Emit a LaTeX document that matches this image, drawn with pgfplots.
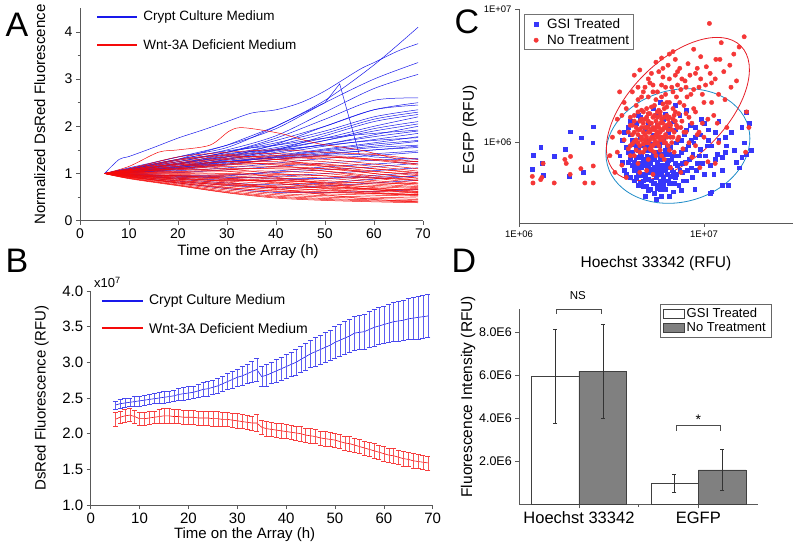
\documentclass[border=0pt]{standalone}
\usepackage{fontspec}
\setmainfont{Liberation Sans}
\usepackage{pgfplots}
\usepackage{pgfplotstable}
\pgfplotsset{compat=1.18}
\definecolor{cblue}{RGB}{25,25,235}
\definecolor{cred}{RGB}{245,10,10}
\definecolor{sblue}{RGB}{55,55,250}
\definecolor{sred}{RGB}{245,55,55}
\definecolor{eblue}{RGB}{30,140,200}
\definecolor{ered}{RGB}{230,30,40}
\definecolor{bargray}{RGB}{128,128,128}
\newcommand{\fs}[1]{\fontsize{#1}{#1}\selectfont}

\pgfplotstableread{
t bm be rm re
5 2.40 0.06 2.20 0.10
6 2.42 0.06 2.23 0.09
7 2.43 0.06 2.25 0.09
8 2.44 0.06 2.26 0.09
9 2.45 0.07 2.24 0.09
10 2.46 0.07 2.21 0.09
11 2.47 0.07 2.21 0.09
12 2.48 0.07 2.22 0.09
13 2.49 0.07 2.23 0.09
14 2.50 0.08 2.24 0.10
15 2.51 0.08 2.25 0.10
16 2.52 0.08 2.25 0.10
17 2.53 0.08 2.24 0.10
18 2.55 0.08 2.24 0.10
19 2.56 0.09 2.23 0.10
20 2.57 0.09 2.23 0.10
21 2.58 0.09 2.23 0.10
22 2.60 0.09 2.22 0.10
23 2.62 0.10 2.22 0.10
24 2.63 0.10 2.22 0.10
25 2.65 0.10 2.21 0.10
26 2.67 0.10 2.21 0.10
27 2.70 0.11 2.20 0.10
28 2.73 0.11 2.20 0.10
29 2.76 0.12 2.19 0.10
30 2.79 0.12 2.18 0.10
31 2.81 0.13 2.17 0.10
32 2.84 0.14 2.16 0.10
33 2.87 0.15 2.15 0.10
34 2.90 0.16 2.15 0.12
35 2.80 0.14 2.09 0.10
36 2.82 0.15 2.07 0.10
37 2.85 0.15 2.06 0.10
38 2.88 0.16 2.05 0.10
39 2.91 0.16 2.04 0.10
40 2.94 0.17 2.03 0.10
41 2.97 0.17 2.02 0.10
42 3.00 0.18 2.01 0.10
43 3.04 0.18 2.00 0.10
44 3.08 0.19 1.98 0.10
45 3.12 0.19 1.97 0.10
46 3.15 0.20 1.96 0.10
47 3.18 0.20 1.94 0.10
48 3.21 0.21 1.93 0.10
49 3.24 0.21 1.92 0.10
50 3.28 0.22 1.91 0.10
51 3.31 0.22 1.89 0.10
52 3.34 0.23 1.87 0.10
53 3.37 0.23 1.86 0.10
54 3.41 0.24 1.84 0.10
55 3.42 0.24 1.82 0.10
56 3.43 0.25 1.80 0.10
57 3.46 0.25 1.78 0.10
58 3.49 0.26 1.76 0.10
59 3.51 0.26 1.74 0.10
60 3.53 0.26 1.72 0.10
61 3.55 0.27 1.70 0.10
62 3.57 0.27 1.69 0.10
63 3.58 0.28 1.67 0.10
64 3.59 0.28 1.65 0.10
65 3.61 0.29 1.64 0.10
66 3.62 0.29 1.62 0.10
67 3.63 0.30 1.61 0.10
68 3.64 0.30 1.60 0.10
69 3.65 0.30 1.59 0.10
}\tblB

\pgfplotstableread{
x y
1.18 0.63
1.19 0.81
1.31 0.92
1.33 0.70
1.35 0.57
1.55 0.79
1.77 0.89
1.89 1.21
1.87 0.56
2.16 1.09
2.23 0.60
2.52 1.32
2.50 1.00
3.5 0.80
3.6 1.05
3.7 0.62
3.8 0.92
3.9 1.30
3.9 0.72
4.0 0.55
4.0 1.15
4.1 0.85
4.1 0.68
4.2 0.98
4.2 0.52
4.3 0.78
4.3 1.40
4.4 0.60
4.4 0.88
4.5 0.70
4.5 0.50
4.5 1.10
4.6 0.65
4.6 0.82
4.7 0.47
4.7 0.95
4.7 0.58
4.8 0.72
4.8 1.25
4.9 0.62
4.9 0.80
5.0 0.53
5.0 0.68
5.0 1.02
5.1 0.45
5.1 0.88
5.2 0.60
5.2 0.75
5.3 0.50
5.3 1.15
5.4 0.66
5.4 0.42
5.5 0.85
5.5 0.55
5.6 0.72
5.6 1.35
5.7 0.48
5.7 0.95
5.8 0.62
5.9 0.78
5.9 0.40
6.0 0.55
6.0 1.05
6.1 0.68
6.2 0.45
6.2 0.88
6.3 0.58
6.4 1.20
6.4 0.74
6.5 0.50
6.6 0.92
6.7 0.62
6.8 0.43
6.8 1.45
6.9 0.80
7.0 0.55
7.1 1.00
7.2 0.68
7.3 0.48
7.4 1.60
7.5 0.85
7.6 0.60
7.8 1.15
7.9 0.72
8.0 0.52
8.2 0.95
8.4 1.35
8.5 0.65
8.7 0.82
8.9 0.45
9.0 1.10
9.2 0.70
9.5 0.90
9.7 1.50
10.0 0.58
10.2 0.80
10.5 1.25
10.8 0.42
11.0 0.95
11.5 0.75
12.0 1.05
12.5 0.62
13.0 0.85
13.5 0.48
14.0 1.20
15.0 0.72
16.0 0.78
17.0 1.70
17.5 1.40
18.0 0.88
4.8 0.40
5.5 0.38
6.5 0.40
7.5 0.44
11.0 0.43
12.5 0.48
5.8 2.0
6.2 1.65
4.4 1.60
7.0 1.90
5.3 1.80
8.0 1.75
4.6 0.57
5.0 0.60
4.3 0.66
4.9 0.70
5.4 0.58
5.8 0.52
4.7 0.75
3.8 0.58
3.9 0.85
4.0 0.75
4.1 1.05
4.2 0.62
4.2 0.72
4.3 0.55
4.3 0.92
4.4 0.48
4.4 0.78
4.5 0.82
4.5 0.58
4.6 0.50
4.6 0.95
4.7 0.68
4.7 0.52
4.8 0.88
4.8 0.56
4.9 0.47
4.9 0.92
5.0 0.78
5.0 0.44
5.1 0.62
5.1 0.70
5.2 0.52
5.2 0.98
5.3 0.64
5.3 0.82
5.4 0.75
5.4 0.50
5.5 0.62
5.5 0.95
5.6 0.46
5.6 0.58
5.7 0.68
5.7 0.82
5.8 0.45
5.8 0.75
5.9 0.58
5.9 1.00
6.0 0.65
6.0 0.48
6.1 0.82
6.1 0.52
6.2 0.62
6.3 0.72
6.3 0.95
6.4 0.52
6.5 0.66
6.5 0.82
6.6 0.56
6.7 0.75
6.8 0.60
6.9 0.50
7.0 0.70
7.1 0.58
7.3 0.80
7.4 0.62
7.6 0.70
7.7 0.52
7.9 0.90
8.1 0.62
8.3 0.75
8.6 0.55
8.8 1.00
9.1 0.62
9.4 0.80
9.8 0.70
10.4 0.95
10.8 0.68
11.3 0.58
11.8 0.82
12.5 0.78
13.2 0.95
14.5 0.88
15.5 0.65
16.5 1.00
17.0 0.82
3.6 0.72
3.7 1.20
4.0 1.45
4.5 1.55
5.0 1.40
5.5 1.60
6.0 1.50
6.5 1.30
7.0 1.25
7.5 1.05
8.0 1.25
8.5 1.05
9.0 1.30
9.5 1.15
10.0 1.40
10.5 1.05
11.5 1.20
12.0 1.45
13.0 1.10
16.0 1.30
}\tblCb

\pgfplotstableread{
x y
1.18 0.56
1.19 0.50
1.31 0.53
1.33 0.55
1.35 0.70
1.55 0.50
1.77 0.75
1.90 0.79
1.80 0.70
1.89 0.58
2.16 0.64
2.27 0.50
2.52 0.67
2.52 0.50
4.0 0.95
4.0 1.35
4.1 1.15
4.2 1.60
4.2 0.80
4.3 1.05
4.3 1.90
4.4 1.25
4.4 0.70
4.5 1.45
4.5 0.95
4.6 2.20
4.6 1.10
4.7 1.70
4.7 0.85
4.8 1.30
4.8 2.60
4.9 1.00
4.9 1.55
5.0 1.20
5.0 0.75
5.0 3.00
5.1 1.40
5.1 0.90
5.2 1.85
5.2 1.10
5.3 1.30
5.3 2.40
5.4 0.98
5.4 1.60
5.5 1.15
5.5 0.80
5.5 2.10
5.6 1.35
5.6 1.00
5.7 1.75
5.7 3.40
5.8 1.20
5.8 0.88
5.9 1.50
5.9 2.70
6.0 1.05
6.0 1.95
6.1 1.30
6.1 0.75
6.2 2.30
6.2 1.15
6.3 1.60
6.4 0.95
6.4 3.80
6.5 1.40
6.5 2.00
6.6 1.10
6.7 2.60
6.7 1.25
6.8 1.80
6.9 0.85
7.0 1.45
7.0 3.20
7.1 2.20
7.2 1.05
7.3 1.65
7.4 3.60
7.5 1.30
7.5 2.50
7.7 0.90
7.8 1.90
7.9 2.90
8.0 1.20
8.2 3.90
8.3 1.55
8.5 2.30
8.6 0.78
8.8 1.80
9.0 3.30
9.2 1.15
9.4 2.60
9.6 4.40
9.8 1.40
10.0 2.00
10.3 3.70
10.5 0.72
10.7 7.80
11.0 2.80
11.3 1.60
11.6 4.20
12.0 2.30
12.4 5.60
12.8 3.40
13.3 1.30
14.0 2.60
14.5 4.60
15.5 5.20
16.5 6.20
17.5 1.30
16.8 0.85
3.3 0.60
3.4 0.85
3.5 1.20
3.6 0.68
3.7 1.05
3.8 0.55
3.9 0.90
3.4 1.50
3.2 1.10
3.1 0.80
4.5 0.60
4.9 0.62
5.3 0.58
6.6 0.65
7.5 0.60
5.0 1.45
5.2 1.25
5.4 1.05
5.6 1.20
5.8 1.40
6.0 1.25
6.2 1.00
5.5 1.30
4.7 1.20
4.9 1.10
5.1 1.05
4.6 1.30
4.4 1.00
6.3 1.35
6.8 1.10
7.2 1.30
4.2 1.20
5.3 0.95
5.9 1.10
6.5 0.88
4.8 1.50
5.6 1.55
6.1 1.55
8.0 0.70
9.0 0.95
10.0 1.10
6.5 4.60
7.0 4.20
5.5 4.00
4.2 3.20
3.7 2.00
3.5 2.40
12.0 1.00
9.5 0.65
11.5 0.70
8.8 5.00
4.6 1.75
5.0 1.65
5.4 1.90
5.8 1.70
6.3 1.85
4.8 1.05
5.2 0.88
5.7 1.12
6.4 1.50
6.9 1.60
4.4 2.60
5.1 2.80
6.0 3.10
7.2 2.70
8.1 2.20
3.9 1.20
4.0 1.55
4.0 0.80
4.1 1.35
4.1 0.98
4.2 1.45
4.2 1.02
4.3 1.30
4.3 0.88
4.4 1.15
4.4 1.70
4.5 1.25
4.5 0.85
4.6 1.05
4.6 1.50
4.7 0.98
4.7 1.40
4.8 1.15
4.8 0.90
4.9 1.30
4.9 1.80
5.0 1.00
5.0 1.30
5.1 1.20
5.1 1.65
5.2 0.95
5.2 1.40
5.3 1.10
5.3 1.55
5.4 1.25
5.4 0.85
5.5 1.45
5.5 1.00
5.6 1.10
5.6 1.70
5.7 1.30
5.7 0.95
5.8 1.05
5.8 1.60
5.9 1.25
5.9 0.80
6.0 1.40
6.0 1.10
6.1 1.00
6.1 1.80
6.2 1.30
6.3 1.10
6.3 2.00
6.4 1.25
6.5 1.55
6.6 1.35
6.7 1.00
6.8 1.50
6.9 1.20
7.0 1.70
7.1 1.35
7.3 1.10
7.4 2.00
7.6 1.45
7.8 1.20
8.0 1.65
8.3 1.00
8.6 1.40
9.0 1.70
9.4 1.20
9.8 2.30
10.5 1.50
11.0 2.00
4.4 2.10
4.7 2.40
5.0 2.20
5.3 2.70
5.6 2.40
5.9 2.20
6.2 2.60
6.5 3.00
6.8 2.40
7.2 3.40
7.6 3.00
8.0 2.60
8.4 3.20
8.8 2.50
9.2 3.60
9.6 3.00
10.2 2.70
10.8 3.30
11.5 3.00
12.2 4.20
13.0 2.10
13.8 3.80
15.0 2.90
17.0 1.70
11.8 1.40
3.6 1.60
3.8 1.80
4.1 2.40
4.5 3.50
5.2 3.30
6.0 3.60
6.8 4.80
5.9 4.30
}\tblCr

\newcommand{\bl}[8]{\addplot[cblue, sp] coordinates {(5,#1)(10,#2)(20,#3)(30,#4)(40,#5)(50,#6)(60,#7)(69,#8)};}
\newcommand{\rl}[8]{\addplot[cred, sp] coordinates {(5,#1)(10,#2)(20,#3)(30,#4)(40,#5)(50,#6)(60,#7)(69,#8)};}

\pgfplotsset{
  base/.style={scale only axis, anchor=south west,
    axis x line*=bottom, axis y line*=left, tick align=outside,
    axis line style={black!65, line width=0.6pt},
    every tick/.style={black!65, line width=0.6pt},
    major tick length=4pt, minor tick length=2.5pt,
    /pgf/number format/assume math mode=true},
  sp/.style={line width=0.5pt, smooth, tension=0.5, forget plot},
}

\begin{document}
\begin{tikzpicture}
\useasboundingbox (0,0) rectangle (800pt,547pt);

% ---------------- Panel A ----------------
\begin{axis}[base, at={(80pt,326.3pt)}, width=343pt, height=212.4pt,
  xmin=0, xmax=70, ymin=0, ymax=4.5,
  xtick={0,10,...,70}, ytick={0,1,2,3,4}, minor ytick={0.5,1.5,2.5,3.5},
  ticklabel style={font=\fs{14}},
  xlabel={Time on the Array (h)}, ylabel={Normalized DsRed Fluorescence},
  label style={font=\fs{15}},
  xlabel style={at={(axis description cs:0.49,-0.145)}, anchor=center},
  ylabel style={at={(axis description cs:-0.117,0.5)}, anchor=center},
]
% blue lines
\addplot[cblue, sp] coordinates {(5,1)(8,1.3)(10,1.36)(15,1.55)(20,1.75)(25,1.92)(30,2.1)(35,2.28)(40,2.35)(45,2.5)(50,2.75)(57,3.2)(60,3.35)(65,3.6)(69,3.75)};
\bl{1}{1.1}{1.35}{1.55}{2.0}{2.55}{3.3}{4.1}
\bl{1}{1.12}{1.35}{1.6}{1.95}{2.5}{3.0}{3.35}
\bl{1}{1.1}{1.3}{1.5}{1.8}{2.3}{2.8}{3.1}
\bl{1}{1.08}{1.28}{1.45}{1.75}{2.15}{2.55}{2.6}
\bl{1}{1.1}{1.25}{1.45}{1.7}{2.0}{2.35}{2.5}
\bl{1}{1.05}{1.22}{1.4}{1.6}{1.85}{2.15}{2.3}
\bl{1}{1.06}{1.2}{1.38}{1.55}{1.75}{2.0}{2.2}
\bl{1}{1.08}{1.22}{1.35}{1.5}{1.7}{1.95}{2.1}
\bl{1}{1.05}{1.18}{1.32}{1.48}{1.62}{1.82}{2.0}
\bl{1}{1.04}{1.15}{1.28}{1.42}{1.58}{1.72}{1.85}
\bl{1}{1.03}{1.12}{1.25}{1.38}{1.52}{1.65}{1.78}
\bl{1}{1.05}{1.16}{1.26}{1.35}{1.48}{1.58}{1.68}
\bl{1}{1.02}{1.08}{1.18}{1.3}{1.4}{1.5}{1.55}
\bl{1}{1.02}{1.06}{1.12}{1.22}{1.32}{1.38}{1.45}
\bl{1}{1.0}{1.02}{1.08}{1.15}{1.22}{1.28}{1.32}
\bl{1}{0.99}{0.96}{0.97}{1.02}{1.08}{1.14}{1.22}
\bl{1}{0.96}{0.9}{0.86}{0.86}{0.9}{0.96}{1.02}
\bl{1}{0.95}{0.84}{0.75}{0.7}{0.74}{0.8}{0.86}
\bl{1}{0.94}{0.8}{0.68}{0.6}{0.6}{0.62}{0.66}
\bl{1}{1.1}{1.3}{1.48}{1.6}{1.75}{1.85}{1.92}
\bl{1}{1.01}{1.1}{1.24}{1.34}{1.45}{1.55}{1.6}
\bl{1}{0.97}{0.92}{0.95}{1.05}{1.14}{1.2}{1.26}
\bl{1}{0.98}{0.95}{0.9}{0.94}{1.0}{1.06}{1.12}
\bl{1}{1.05}{1.15}{1.35}{1.62}{2.0}{2.35}{2.45}
\bl{1}{1.08}{1.2}{1.42}{1.5}{1.6}{1.7}{1.76}
\bl{1}{1.02}{1.12}{1.3}{1.5}{1.8}{2.1}{2.25}
\bl{1}{0.97}{0.88}{0.8}{0.76}{0.8}{0.88}{0.95}
\bl{1}{1.04}{1.1}{1.2}{1.3}{1.38}{1.42}{1.48}
\bl{1}{1.06}{1.2}{1.36}{1.52}{1.7}{1.9}{2.05}
\bl{1}{1.03}{1.14}{1.3}{1.45}{1.62}{1.78}{1.9}
\bl{1}{1.07}{1.25}{1.45}{1.65}{1.9}{2.2}{2.35}
\bl{1}{1.02}{1.1}{1.22}{1.36}{1.5}{1.62}{1.7}
\bl{1}{1.04}{1.13}{1.25}{1.33}{1.42}{1.5}{1.58}
\bl{1}{0.98}{0.94}{0.92}{0.9}{0.9}{0.92}{0.95}
\addplot[cblue, line width=0.5pt, forget plot] coordinates {(5,1)(10,1.08)(20,1.3)(30,1.6)(40,2.0)(50,2.5)(53,2.9)(57,1.4)(60,1.35)(69,1.3)};
% red lines
\rl{1}{1.1}{1.35}{1.45}{1.5}{1.45}{1.4}{1.3}
\rl{1}{1.1}{1.3}{1.4}{1.42}{1.38}{1.3}{1.2}
\rl{1}{1.08}{1.25}{1.35}{1.35}{1.3}{1.2}{1.1}
\rl{1}{1.08}{1.2}{1.3}{1.3}{1.25}{1.15}{1.05}
\rl{1}{1.05}{1.15}{1.25}{1.25}{1.2}{1.1}{1.0}
\rl{1}{1.05}{1.15}{1.2}{1.2}{1.15}{1.05}{0.95}
\rl{1}{1.05}{1.1}{1.15}{1.15}{1.1}{1.0}{0.9}
\rl{1}{1.03}{1.08}{1.1}{1.1}{1.05}{0.95}{0.85}
\rl{1}{1.02}{1.05}{1.05}{1.05}{1.0}{0.9}{0.8}
\rl{1}{1.02}{1.02}{1.0}{0.98}{0.95}{0.85}{0.78}
\rl{1}{1.0}{1.0}{0.98}{0.95}{0.9}{0.82}{0.75}
\rl{1}{1.0}{0.98}{0.95}{0.9}{0.85}{0.78}{0.72}
\rl{1}{0.98}{0.95}{0.9}{0.85}{0.8}{0.75}{0.7}
\rl{1}{0.98}{0.92}{0.87}{0.82}{0.76}{0.72}{0.68}
\rl{1}{0.97}{0.9}{0.84}{0.78}{0.72}{0.68}{0.65}
\rl{1}{0.96}{0.88}{0.8}{0.74}{0.69}{0.65}{0.62}
\rl{1}{0.95}{0.86}{0.77}{0.7}{0.65}{0.62}{0.6}
\rl{1}{0.94}{0.84}{0.74}{0.66}{0.61}{0.58}{0.56}
\rl{1}{0.93}{0.82}{0.71}{0.62}{0.57}{0.54}{0.52}
\rl{1}{0.92}{0.8}{0.68}{0.58}{0.53}{0.5}{0.48}
\rl{1}{0.91}{0.78}{0.65}{0.55}{0.5}{0.47}{0.45}
\rl{1}{0.9}{0.76}{0.62}{0.52}{0.47}{0.44}{0.42}
\rl{1}{0.9}{0.75}{0.6}{0.5}{0.45}{0.42}{0.4}
\rl{1}{0.89}{0.74}{0.59}{0.48}{0.43}{0.4}{0.38}
\rl{1}{1.05}{1.2}{1.1}{1.0}{0.95}{0.9}{0.88}
\rl{1}{1.04}{1.1}{1.2}{1.3}{1.35}{1.3}{1.25}
\rl{1}{0.97}{0.95}{0.9}{0.8}{0.68}{0.6}{0.55}
\rl{1}{1.02}{1.1}{1.05}{0.92}{0.8}{0.7}{0.62}
\rl{1}{0.95}{0.88}{0.85}{0.85}{0.82}{0.8}{0.78}
\rl{1}{1.06}{1.18}{1.25}{1.18}{1.05}{0.92}{0.85}
\rl{1}{0.99}{0.96}{0.93}{0.88}{0.78}{0.66}{0.58}
\rl{1}{0.94}{0.85}{0.78}{0.72}{0.7}{0.67}{0.66}
\rl{1}{1.01}{1.04}{1.08}{1.12}{1.1}{1.04}{0.98}
\rl{1}{0.96}{0.9}{0.82}{0.68}{0.55}{0.45}{0.4}
\rl{1}{0.92}{0.82}{0.76}{0.7}{0.64}{0.58}{0.53}
\rl{1}{1.07}{1.28}{1.38}{1.3}{1.15}{1.0}{0.9}
\rl{1}{0.93}{0.8}{0.7}{0.63}{0.6}{0.57}{0.55}
\rl{1}{0.97}{0.93}{0.88}{0.82}{0.74}{0.66}{0.6}
\rl{1}{1.06}{1.22}{1.32}{1.38}{1.35}{1.28}{1.18}
\rl{1}{1.04}{1.12}{1.18}{1.22}{1.18}{1.1}{1.02}
\addplot[cred, sp] coordinates {(5,1)(10,1.15)(16,1.45)(20,1.5)(26.5,1.6)(30.5,1.9)(33.3,1.97)(40.8,1.85)(48.3,1.64)(57,1.5)(65,1.3)(69,1.25)};
% legend (drawn by hand)
\draw[cblue, line width=2pt] (axis description cs:0.050,0.958) -- (axis description cs:0.166,0.958);
\node[font=\fs{13.5}, anchor=west, inner sep=0pt] at (axis description cs:0.184,0.958) {Crypt Culture Medium};
\draw[cred, line width=2pt] (axis description cs:0.050,0.827) -- (axis description cs:0.166,0.827);
\node[font=\fs{13.5}, anchor=west, inner sep=0pt] at (axis description cs:0.184,0.827) {Wnt-3A Deficient Medium};
\end{axis}

% ---------------- Panel B ----------------
\begin{axis}[base, at={(90.7pt,42pt)}, width=342pt, height=214pt,
  xmin=0, xmax=70, ymin=1, ymax=4,
  xtick={0,10,...,70}, ytick={1,1.5,...,4},
  yticklabel style={/pgf/number format/.cd, fixed, fixed zerofill, precision=1},
  ticklabel style={font=\fs{15}},
  xlabel={Time on the Array (h)}, ylabel={DsRed Fluorescence (RFU)},
  label style={font=\fs{15}},
  xlabel style={at={(axis description cs:0.45,-0.14)}, anchor=center},
  ylabel style={at={(axis description cs:-0.143,0.5)}, anchor=center},
  clip=false,
]
\addplot[cblue, line width=0.6pt,
  error bars/.cd, y dir=both, y explicit,
  error bar style={cblue!70, line width=0.4pt},
  error mark options={cblue!80, rotate=90, mark size=2.5pt, line width=0.5pt}]
  table[x=t, y=bm, y error=be] {\tblB};
\addplot[cred, line width=0.6pt,
  error bars/.cd, y dir=both, y explicit,
  error bar style={cred!70, line width=0.4pt},
  error mark options={cred!80, rotate=90, mark size=2.5pt, line width=0.5pt}]
  table[x=t, y=rm, y error=re] {\tblB};
% legend (drawn by hand)
\draw[cblue, line width=2pt] (axis description cs:0.033,0.955) -- (axis description cs:0.153,0.955);
\node[font=\fs{14}, anchor=west, inner sep=0pt] at (axis description cs:0.170,0.955) {Crypt Culture Medium};
\draw[cred, line width=2pt] (axis description cs:0.033,0.826) -- (axis description cs:0.153,0.826);
\node[font=\fs{14}, anchor=west, inner sep=0pt] at (axis description cs:0.170,0.826) {Wnt-3A Deficient Medium};
\node[font=\fs{13}, anchor=west] at (axis description cs:0.0,1.04) {x10\textsuperscript{7}};
\end{axis}

% ---------------- Panel C ----------------
\begin{axis}[base, at={(519pt,324pt)}, width=274pt, height=214pt,
  xmode=log, ymode=log,
  xmin=1, xmax=30.3, ymin=0.251, ymax=10,
  xtick={1,10}, xticklabels={1E+06,1E+07},
  ytick={1,10}, yticklabels={1E+06,1E+07},
  minor xtick={2,3,4,5,6,7,8,9,20,30},
  minor ytick={0.3,0.4,0.5,0.6,0.7,0.8,0.9,2,3,4,5,6,7,8,9},
  minor tick length=0pt,
  ticklabel style={font=\fs{9.5}},
  xlabel={Hoechst 33342 (RFU)}, ylabel={EGFP (RFU)},
  label style={font=\fs{15.5}},
  xlabel style={at={(axis description cs:0.5,-0.19)}, anchor=center},
  ylabel style={at={(axis description cs:-0.179,0.435)}, anchor=center},
  legend style={draw=black!55, fill=white, at={(axis description cs:0.018,0.975)}, anchor=north west, font=\fs{13.5}, row sep=1pt, inner xsep=2pt, inner ysep=2pt},
  legend cell align=left,
  legend image code/.code={\draw[#1] plot coordinates {(10pt,0pt)}; \path[draw=none, fill=none] (0pt,0pt) -- (19pt,0pt);},
]
\addplot[only marks, mark=square*, mark size=1.9pt, mark options={sblue, draw=none}] table[x=x, y=y] {\tblCb};
\addlegendentry{GSI Treated}
\addplot[only marks, mark=*, mark size=2.2pt, mark options={sred, draw=none}] table[x=x, y=y] {\tblCr};
\addlegendentry{No Treatment}
\draw[eblue, line width=0.8pt, rotate around={15:(axis cs:7.23,0.945)}] (axis cs:7.23,0.945) ellipse [x radius=73pt, y radius=56pt];
\draw[ered, line width=0.8pt, rotate around={45:(axis cs:7.23,1.79)}] (axis cs:7.23,1.79) ellipse [x radius=89pt, y radius=48pt];
\end{axis}

% ---------------- Panel D ----------------
\begin{axis}[base, at={(519.3pt,42.7pt)}, width=238.7pt, height=195.3pt,
  xmin=-0.5, xmax=1.5, ymin=0, ymax=9.07,
  xtick={0,1}, xticklabels={Hoechst 33342,EGFP},
  minor xtick={0.5},
  ytick={2,4,6,8}, yticklabels={2.0E6,4.0E6,6.0E6,8.0E6},
  yticklabel style={font=\fs{12.5}},
  xticklabel style={font=\fs{16.5}},
  ylabel={Fluorescence Intensity (RFU)},
  label style={font=\fs{15.5}},
  ylabel style={at={(axis description cs:-0.214,0.551)}, anchor=center},
  legend style={draw=black!60, fill=white, at={(axis cs:0.679,9.29)}, anchor=north west, font=\fs{13}, row sep=0pt, inner xsep=3pt, inner ysep=1.5pt},
  legend cell align=left,
  legend image code/.code={\draw[#1] (0pt,-4.6pt) rectangle (21pt,4.6pt);},
  clip=false,
]
\addlegendimage{draw=black!75, fill=white, line width=0.5pt}
\addlegendentry{GSI Treated}
\addlegendimage{draw=black!75, fill=bargray, line width=0.5pt}
\addlegendentry{No Treatment}
\addplot[ybar, bar width=47.5pt, bar shift=-23.75pt, draw=black!75, fill=white, line width=0.5pt, forget plot]
  coordinates {(0,5.94) (1,0.98)};
\addplot[ybar, bar width=47.5pt, bar shift=23.75pt, draw=black!75, fill=bargray, line width=0.5pt, forget plot]
  coordinates {(0,6.19) (1,1.60)};
\pgfplotsset{dbar/.style={black!80, line width=0.5pt, forget plot,
  error bars/.cd, y dir=both, y explicit, error bar style={black!80, line width=0.5pt},
  error mark options={black!80, rotate=90, mark size=2pt}}}
\addplot[dbar] coordinates {(-0.2,5.94) +- (0,2.17)};
\addplot[dbar] coordinates {(0.2,6.19) +- (0,2.18)};
\addplot[dbar] coordinates {(0.8,0.98) +- (0,0.43)};
\addplot[dbar] coordinates {(1.2,1.60) +- (0,0.94)};
\draw[black!70, line width=0.5pt] (axis cs:-0.187,8.84) -- (axis cs:-0.187,9.06) -- (axis cs:0.187,9.06) -- (axis cs:0.187,8.84);
\node[font=\fs{11.5}] at (axis cs:-0.01,9.71) {NS};
\draw[black!70, line width=0.5pt] (axis cs:0.815,3.42) -- (axis cs:0.815,3.68) -- (axis cs:1.184,3.68) -- (axis cs:1.184,3.42);
\node[font=\fs{14}] at (axis cs:1.0,3.95) {*};
\end{axis}

% panel letters
\node[font=\fs{34}] at (17pt,522pt) {A};
\node[font=\fs{34}] at (17pt,286pt) {B};
\node[font=\fs{34}] at (467pt,525pt) {C};
\node[font=\fs{34}] at (464pt,286pt) {D};
\end{tikzpicture}
\end{document}
